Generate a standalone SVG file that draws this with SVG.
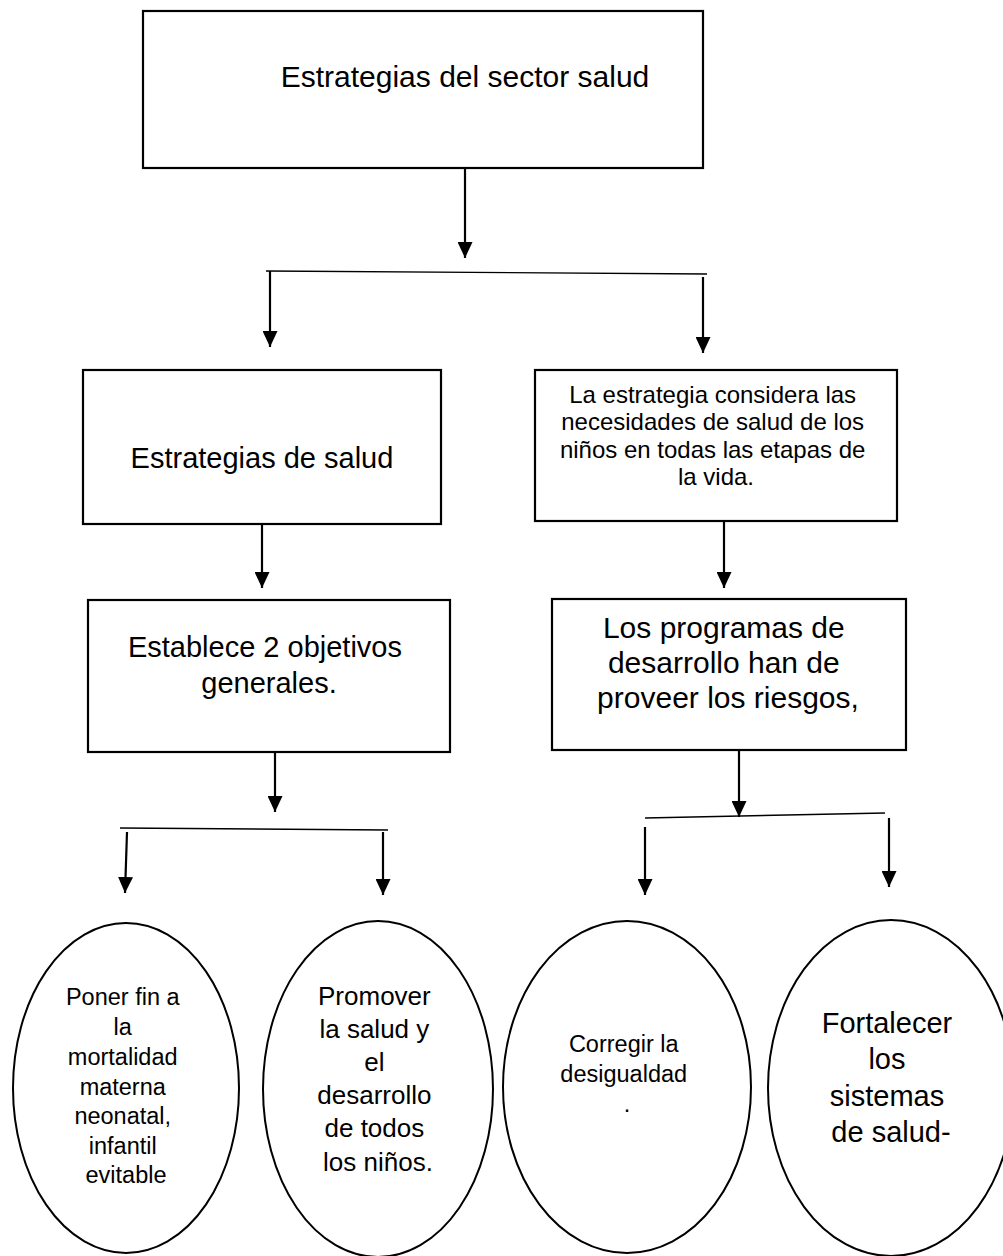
<svg xmlns="http://www.w3.org/2000/svg" width="1003" height="1256" viewBox="0 0 1003 1256">
<defs>
<style>
.box{fill:#fff;stroke:#000;stroke-width:2.2}
.ell{fill:#fff;stroke:#000;stroke-width:2}
.t{font-family:"Liberation Sans",Arial,sans-serif;fill:#000;text-anchor:middle}
.ln{stroke:#000;stroke-width:2.2;fill:none}
.hl{stroke:#000;stroke-width:1.4;fill:none}
</style>
<marker id="ah" viewBox="0 0 16 15" refX="16" refY="7.5" markerWidth="16" markerHeight="15" markerUnits="userSpaceOnUse" orient="auto">
<path d="M0,0 L16,7.5 L0,15 z" fill="#000"/>
</marker>
</defs>
<rect width="1003" height="1256" fill="#fff"/>

<g id="connectors">
<line class="ln" x1="465" y1="168" x2="465" y2="258" marker-end="url(#ah)"/>
<line class="hl" x1="266" y1="271" x2="707" y2="274"/>
<line class="ln" x1="270" y1="271" x2="270" y2="347" marker-end="url(#ah)"/>
<line class="ln" x1="703" y1="277" x2="703" y2="353" marker-end="url(#ah)"/>
<line class="ln" x1="262" y1="524" x2="262" y2="588" marker-end="url(#ah)"/>
<line class="ln" x1="724" y1="521" x2="724" y2="588" marker-end="url(#ah)"/>
<line class="ln" x1="275" y1="752" x2="275" y2="812" marker-end="url(#ah)"/>
<line class="hl" x1="120" y1="828" x2="388" y2="830"/>
<line class="ln" x1="127" y1="832" x2="125" y2="893" marker-end="url(#ah)"/>
<line class="ln" x1="383" y1="832" x2="383" y2="895" marker-end="url(#ah)"/>
<line class="ln" x1="739" y1="750" x2="739" y2="817" marker-end="url(#ah)"/>
<line class="hl" x1="645" y1="818" x2="885" y2="813"/>
<line class="ln" x1="645" y1="827" x2="645" y2="895" marker-end="url(#ah)"/>
<line class="ln" x1="889" y1="818" x2="889" y2="887" marker-end="url(#ah)"/>
</g>

<g id="n1">
<rect class="box" x="143" y="11" width="560" height="157"/>
<text class="t" x="465" y="87" font-size="30">Estrategias del sector salud</text>
</g>

<g id="n2">
<rect class="box" x="83" y="370" width="358" height="154"/>
<text class="t" x="262" y="468" font-size="29">Estrategias de salud</text>
</g>

<g id="n3">
<rect class="box" x="535" y="370" width="362" height="151"/>
<text class="t" font-size="24">
<tspan x="716" y="403">La estrategia considera las</tspan>
<tspan x="716" y="430">necesidades de salud de los</tspan>
<tspan x="716" y="458">niños en todas las etapas de</tspan>
<tspan x="716" y="485">la vida.</tspan>
</text>
</g>

<g id="n4">
<rect class="box" x="88" y="600" width="362" height="152"/>
<text class="t" font-size="29">
<tspan x="269" y="657">Establece 2 objetivos</tspan>
<tspan x="269" y="693">generales.</tspan>
</text>
</g>

<g id="n5">
<rect class="box" x="552" y="599" width="354" height="151"/>
<text class="t" font-size="30">
<tspan x="728" y="638">Los programas de</tspan>
<tspan x="728" y="673">desarrollo han de</tspan>
<tspan x="728" y="708">proveer los riesgos,</tspan>
</text>
</g>

<g id="n6">
<ellipse class="ell" cx="126" cy="1088" rx="113" ry="165"/>
<text class="t" font-size="23.5">
<tspan x="126" y="1005">Poner fin a</tspan>
<tspan x="126" y="1035">la</tspan>
<tspan x="126" y="1065">mortalidad</tspan>
<tspan x="126" y="1095">materna</tspan>
<tspan x="126" y="1124">neonatal,</tspan>
<tspan x="126" y="1154">infantil</tspan>
<tspan x="126" y="1183">evitable</tspan>
</text>
</g>

<g id="n7">
<ellipse class="ell" cx="378" cy="1089" rx="115" ry="168"/>
<text class="t" font-size="26">
<tspan x="378" y="1005">Promover</tspan>
<tspan x="378" y="1038">la salud y</tspan>
<tspan x="378" y="1071">el</tspan>
<tspan x="378" y="1104">desarrollo</tspan>
<tspan x="378" y="1137">de todos</tspan>
<tspan x="378" y="1171">los niños.</tspan>
</text>
</g>

<g id="n8">
<ellipse class="ell" cx="627" cy="1087" rx="124" ry="166"/>
<text class="t" font-size="23.5">
<tspan x="627" y="1052">Corregir la</tspan>
<tspan x="627" y="1082">desigualdad</tspan>
<tspan x="627" y="1112">.</tspan>
</text>
</g>

<g id="n9">
<ellipse class="ell" cx="891" cy="1088" rx="123" ry="168"/>
<text class="t" font-size="29">
<tspan x="891" y="1033">Fortalecer</tspan>
<tspan x="891" y="1069">los</tspan>
<tspan x="891" y="1106">sistemas</tspan>
<tspan x="891" y="1142">de salud-</tspan>
</text>
</g>
</svg>
